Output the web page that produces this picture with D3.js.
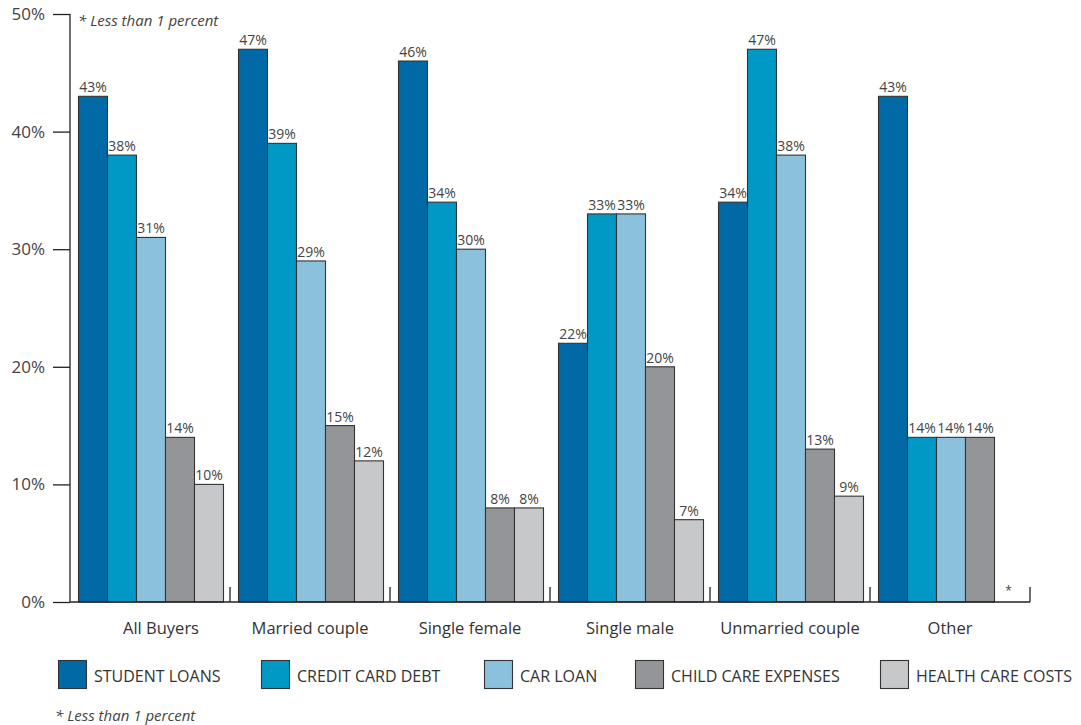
<!DOCTYPE html>
<html><head><meta charset="utf-8">
<script src="https://cdn.jsdelivr.net/npm/d3@7"></script>
<style>body{margin:0;background:#fff;} svg{display:block;font-family:"Open Sans",sans-serif;}</style>
</head><body>
<svg id="c" width="1081" height="725"></svg>
<script>
const categories = ["All Buyers","Married couple","Single female","Single male","Unmarried couple","Other"];
const seriesNames = ["STUDENT LOANS","CREDIT CARD DEBT","CAR LOAN","CHILD CARE EXPENSES","HEALTH CARE COSTS"];
const studentLoans = [43,47,46,22,34,43];
const creditCardDebt = [38,39,34,33,47,14];
const carLoan = [31,29,30,33,38,14];
const childCare = [14,15,8,20,13,14];
const healthCare = [10,12,8,7,9,null];
const yTicks = [0,10,20,30,40,50];
const colors = ["#0069a6","#0098c5","#8bc1dd","#939598","#c7c8ca"];
const note = "* Less than 1 percent";

const series = [studentLoans, creditCardDebt, carLoan, childCare, healthCare];
const svg = d3.select("#c");
const y = d3.scaleLinear().domain([0,50]).range([602,14]);
const x0 = d3.scaleBand().domain(categories).range([70,1030]).padding(0);
const x1 = d3.scaleBand().domain(d3.range(5)).range([8,153]).padding(0);

// y axis
const yAxis = svg.append("g").attr("transform","translate(70,0)")
  .call(d3.axisLeft(y).tickValues(yTicks).tickFormat(d=>d+"%").tickSize(17).tickPadding(8));
yAxis.select(".domain").attr("stroke","#222").attr("stroke-width",1.3).attr("d","M0,14V602");
yAxis.selectAll(".tick line").attr("stroke","#222").attr("stroke-width",1.3);
yAxis.selectAll(".tick text").attr("font-size",17).attr("fill","#444").attr("font-family","Open Sans, sans-serif");

// bars
const groups = svg.append("g").selectAll("g").data(categories).join("g")
  .attr("transform",d=>`translate(${x0(d)},0)`);
groups.each(function(cat, ci){
  const g = d3.select(this);
  series.forEach((s, si)=>{
    const v = s[ci];
    const bx = x1(si);
    if (v === null) {
      g.append("text").attr("x",bx+x1.bandwidth()/2).attr("y",y(0)-7).attr("text-anchor","middle")
        .attr("font-size",12).attr("fill","#444").text("*");
      return;
    }
    g.append("rect").attr("x",bx+0.5).attr("y",y(v)).attr("width",x1.bandwidth()).attr("height",y(0)-y(v))
      .attr("fill",colors[si]).attr("stroke","#333").attr("stroke-width",1.1);
    g.append("text").attr("x",bx+0.5+x1.bandwidth()/2).attr("y",y(v)-4).attr("text-anchor","middle")
      .attr("font-size",14).attr("fill","#444").text(v+"%");
  });
});

// x axis
const xa = svg.append("g");
xa.append("line").attr("x1",70).attr("x2",1030).attr("y1",602).attr("y2",602).attr("stroke","#222").attr("stroke-width",1.3);
categories.forEach((c,i)=>{
  const xe = x0(c)+x0.bandwidth();
  xa.append("line").attr("x1",xe).attr("x2",xe).attr("y1",602).attr("y2",587).attr("stroke","#222").attr("stroke-width",1.3);
  xa.append("text").attr("x",x0(c)+x0.bandwidth()/2+(i===0?11:0)).attr("y",634).attr("text-anchor","middle")
    .attr("font-size",16.5).attr("fill","#333").text(c);
});

// legend
const legendX = [58,261,484,635,880];
seriesNames.forEach((n,i)=>{
  svg.append("rect").attr("x",legendX[i]+0.5).attr("y",660.5).attr("width",28).attr("height",28)
    .attr("fill",colors[i]).attr("stroke","#333").attr("stroke-width",1.1);
  svg.append("text").attr("x",legendX[i]+36).attr("y",681.5).attr("font-size",16).attr("fill","#333").text(n);
});

// notes
svg.append("text").attr("x",78).attr("y",26).attr("font-size",15).attr("font-style","italic").attr("fill","#444").text(note);
svg.append("text").attr("x",55).attr("y",721).attr("font-size",15).attr("font-style","italic").attr("fill","#444").text(note);
</script>
</body></html>
